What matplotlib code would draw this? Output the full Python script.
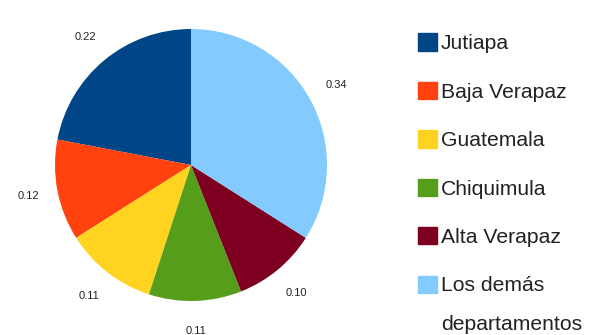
import matplotlib
matplotlib.use("Agg")
import matplotlib.pyplot as plt
import matplotlib.patches as mpatches

plt.rcParams['font.family'] = ['Liberation Sans', 'DejaVu Sans']

departamentos = ['Jutiapa', 'Baja Verapaz', 'Guatemala', 'Chiquimula',
                 'Alta Verapaz', 'Los demás']
ultima_linea = 'departamentos'
valores = [0.22, 0.12, 0.11, 0.11, 0.10, 0.34]
etiquetas = ['0.22', '0.12', '0.11', '0.11', '0.10', '0.34']
colores = ['#004586', '#ff420e', '#ffd320', '#579d1c', '#7e0021', '#83caff']

W, H = 589, 335
fig = plt.figure(figsize=(W / 100, H / 100), dpi=100)

# pie centre ~ (191,165) px, radius ~136 px
cx, cy, r = 191, 165, 136
ax = fig.add_axes([(cx - r) / W, (H - cy - r) / H, 2 * r / W, 2 * r / H])
wedges, texts = ax.pie(valores, labels=etiquetas, colors=colores, startangle=90,
                       counterclock=True, radius=1, labeldistance=1.22,
                       wedgeprops=dict(linewidth=0),
                       textprops=dict(fontsize=8, color='#222222'))
for t in texts:
    t.set_horizontalalignment('center')
ax.set_xlim(-1, 1)
ax.set_ylim(-1, 1)
ax.set_aspect('equal')
ax.axis('off')

handles = [mpatches.Patch(color=c, label=l) for c, l in zip(colores, departamentos)]
leg = fig.legend(handles=handles, loc='upper left', bbox_to_anchor=(409.5 / W, 1 - 25 / H),
                 frameon=False, fontsize=15.2, handlelength=0.88, handleheight=0.88,
                 handletextpad=0.22, labelspacing=1.35, borderaxespad=0)
for t in leg.get_texts():
    t.set_color('#222222')

# second line of the last label, below "Los demás"
fig.canvas.draw()
bb = leg.get_texts()[-1].get_window_extent()
fig.text(bb.x0 / W, (bb.y0 - 39) / H, ultima_linea, fontsize=15.2, color='#222222',
         ha='left', va='bottom')

fig.savefig('out.png', dpi=100)
